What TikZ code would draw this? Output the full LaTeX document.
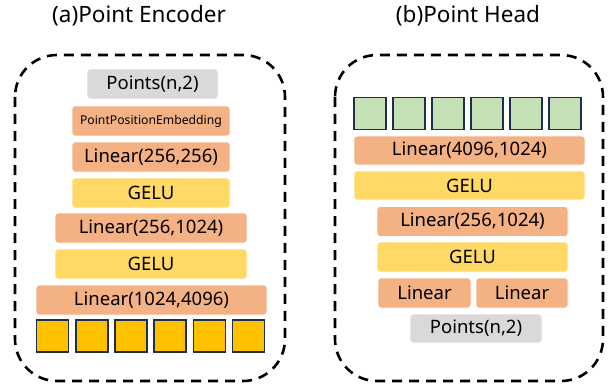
\documentclass[tikz,border=0pt]{standalone}
\usepackage{fontspec}
\setmainfont{Noto Sans}
\definecolor{cgray}{HTML}{D9D9D9}
\definecolor{corange}{HTML}{F4B183}
\definecolor{cyellow}{HTML}{FFD966}
\definecolor{cgold}{HTML}{FFC000}
\definecolor{cgreen}{HTML}{C5E0B4}
\definecolor{cnavy}{HTML}{1F2D4F}
\begin{document}
\begin{tikzpicture}[x=1pt,y=-1pt,
  layer/.style={draw=white,line width=0.8pt,rounded corners=3pt,inner sep=0pt,minimum height=30pt,font=\fontsize{18.5}{18.5}\selectfont},
  grayL/.style={layer,fill=cgray},
  orangeL/.style={layer,fill=corange},
  yellowL/.style={layer,fill=cyellow},
  cell/.style={draw=cnavy,line width=1.6pt,minimum width=32pt,minimum height=32pt,inner sep=0pt},
  frame/.style={draw=black,line width=2.6pt,dash pattern=on 10pt off 7pt,rounded corners=42pt},
  title/.style={font=\fontsize{22.5}{22.5}\selectfont}]
\useasboundingbox (0,0) rectangle (610,385);
% titles
\node[title] (ta) at (139,16) {(a)Point Encoder};
\node[title] (tb) at (468,16) {(b)Point Head};
% frames
\draw[frame] (15,55) rectangle (285,381);
\draw[frame] (335,55) rectangle (603,381);
% left
\node[grayL,minimum width=131pt] (pts) at (152.5,84) {Points(n,2)};
\node[orangeL,minimum width=158pt,font=\fontsize{12.2}{12.2}\selectfont] (ppe) at (151,121) {PointPositionEmbedding};
\node[orangeL,minimum width=158pt] (l1) at (151,157) {Linear(256,256)};
\node[yellowL,minimum width=158pt] (g1) at (151,193) {GELU};
\node[orangeL,minimum width=192pt] (l2) at (151,228) {Linear(256,1024)};
\node[yellowL,minimum width=192pt] (g2) at (151,264) {GELU};
\node[orangeL,minimum width=231pt] (l3) at (151.5,300) {Linear(1024,4096)};
\foreach \i in {0,...,5} {
  \node[cell,fill=cgold] (a\i) at (52.5+39.2*\i,336) {};
}
% right
\foreach \i in {0,...,5} {
  \node[cell,fill=cgreen] (b\i) at (370+39*\i,113.5) {};
}
\node[orangeL,minimum width=231pt,minimum height=29pt] (l4) at (469.5,150.5) {Linear(4096,1024)};
\node[yellowL,minimum width=231pt,minimum height=29pt] (g3) at (469.5,185.5) {GELU};
\node[orangeL,minimum width=191pt] (l5) at (472.5,221.5) {Linear(256,1024)};
\node[yellowL,minimum width=191pt] (g4) at (472.5,257) {GELU};
\node[orangeL,minimum width=93pt] (la) at (424.5,293) {Linear};
\node[orangeL,minimum width=92pt] (lb) at (522,293) {Linear};
\node[grayL,minimum width=132pt,minimum height=29pt] (pts2) at (476,328.5) {Points(n,2)};
\end{tikzpicture}
\end{document}
